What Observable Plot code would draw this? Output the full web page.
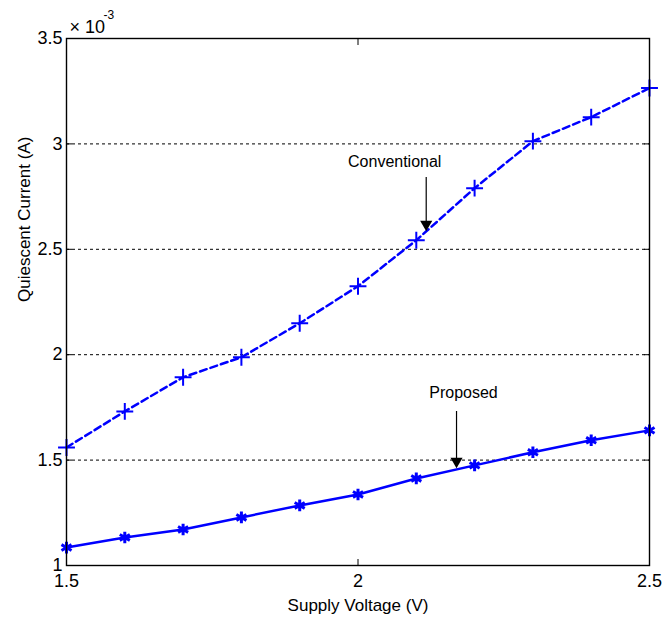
<!DOCTYPE html>
<html><head><meta charset="utf-8">
<script src="https://cdn.jsdelivr.net/npm/d3@7"></script>
<script src="https://cdn.jsdelivr.net/npm/@observablehq/plot@0.6"></script>
<style>body{margin:0;background:#fff;} #chart svg{display:block;}</style>
</head><body><div id="chart"></div>
<script>
// Supply voltage (V)
const voltage = [1.5, 1.6, 1.7, 1.8, 1.9, 2.0, 2.1, 2.2, 2.3, 2.4, 2.5];
// Quiescent current, in units of 1e-3 A
const conventional = [1.560, 1.731, 1.893, 1.988, 2.149, 2.325, 2.543, 2.790, 3.013, 3.127, 3.265];
const proposed = [1.085, 1.133, 1.171, 1.228, 1.285, 1.337, 1.413, 1.475, 1.537, 1.594, 1.641];
const xTicks = [1.5, 2, 2.5];
const yTicks = [1, 1.5, 2, 2.5, 3, 3.5];
const gridY = [1.5, 2, 2.5, 3];
const annLabels = ["Conventional", "Proposed"];
const annTextX = [2.063, 2.181];
const annTextY = [2.915, 1.818];
const arrowX = [2.117, 2.169];
const arrowY1 = [2.843, 1.733];
const arrowY2 = [2.600, 1.476];

const conv = voltage.map((v, i) => ({v, c: conventional[i]}));
const prop = voltage.map((v, i) => ({v, c: proposed[i]}));
const ann = annLabels.map((label, i) => ({label, tx: annTextX[i], ty: annTextY[i], x: arrowX[i], y1: arrowY1[i], y2: arrowY2[i]}));

const font = "Liberation Sans, Arial, sans-serif";
const blue = "#0000ff";

const chart = Plot.plot({
  width: 663, height: 628,
  marginLeft: 66, marginRight: 14, marginTop: 38, marginBottom: 63,
  style: {fontFamily: font, background: "#fff", color: "black"},
  x: {domain: [1.5, 2.5]},
  y: {domain: [1, 3.5]},
  marks: [
    Plot.ruleY(gridY, {stroke: "black", strokeWidth: 1, strokeDasharray: "3,3"}),
    // tick labels
    Plot.axisX({anchor: "bottom", ticks: xTicks, tickSize: 0, tickPadding: 9, fontSize: 18, label: null, tickFormat: d => String(d)}),
    Plot.axisY({anchor: "left", ticks: yTicks, tickSize: 0, tickPadding: 4, fontSize: 18, label: null, tickFormat: d => String(d)}),
    // inward ticks
    Plot.axisX({anchor: "bottom", ticks: xTicks, tickSize: -6, label: null, tickFormat: () => ""}),
    Plot.axisX({anchor: "top", ticks: xTicks, tickSize: -6, label: null, tickFormat: () => ""}),
    Plot.axisY({anchor: "left", ticks: yTicks, tickSize: -6, label: null, tickFormat: () => ""}),
    Plot.axisY({anchor: "right", ticks: yTicks, tickSize: -6, label: null, tickFormat: () => ""}),
    // series
    Plot.line(conv, {x: "v", y: "c", stroke: blue, strokeWidth: 2.5, strokeDasharray: "7,4"}),
    Plot.dot(conv, {x: "v", y: "c", symbol: "plus", stroke: blue, strokeWidth: 2, r: 5.5}),
    Plot.line(prop, {x: "v", y: "c", stroke: blue, strokeWidth: 2.5}),
    Plot.dot(prop, {x: "v", y: "c", symbol: "asterisk", stroke: blue, strokeWidth: 3, r: 5.5}),
    // annotations
    Plot.text(ann, {x: "tx", y: "ty", text: "label", fontSize: 16, fill: "black"}),
    Plot.link(ann, {x1: "x", x2: "x", y1: "y1", y2: "y2", stroke: "black", strokeWidth: 1.2}),
    Plot.dot(ann, {x: "x", y: "y2", symbol: "triangle", rotate: 180, r: 4.5, fill: "black", stroke: "none", dy: -4}),
    Plot.frame({stroke: "black", strokeWidth: 1.4}),
    // axis titles
    Plot.text(["Supply Voltage (V)"], {frameAnchor: "bottom", dy: 45, fontSize: 17, fill: "black"}),
    Plot.text(["Quiescent Current (A)"], {frameAnchor: "left", rotate: -90, dx: -42, fontSize: 17, fill: "black"}),
    // exponent
    Plot.text(["× 10"], {frameAnchor: "top-left", dx: 3, dy: -18, textAnchor: "start", fontSize: 18, fill: "black"}),
    Plot.text(["-3"], {frameAnchor: "top-left", dx: 37, dy: -28, textAnchor: "start", fontSize: 12, fill: "black"})
  ]
});
document.getElementById("chart").appendChild(chart);
</script>
</body></html>
